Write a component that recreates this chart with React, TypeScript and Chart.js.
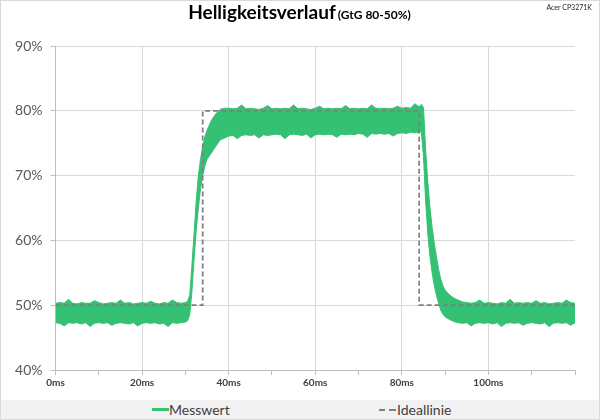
import React, { useEffect, useRef } from "react";
import { Chart, registerables } from "chart.js";

Chart.register(...registerables);

// time axis (ms) for the measured band
const timeMs = [
  0, 1, 2, 3, 4, 5, 6, 7, 8, 9, 10, 11, 12, 13, 14, 15, 16, 17, 18, 19, 20, 21, 22, 23, 24, 25, 26, 27, 28, 29, 30,
  30.5, 31, 31.5, 32, 32.5, 33, 33.5, 34, 34.5, 35, 36, 37, 38, 39,
  40, 41, 42, 43, 44, 45, 46, 47, 48, 49, 50, 51, 52, 53, 54, 55, 56, 57, 58, 59, 60, 61, 62, 63, 64,
  65, 66, 67, 68, 69, 70, 71, 72, 73, 74, 75, 76, 77, 78, 79, 80, 81, 82, 83, 84,
  84.5, 85, 85.5, 86, 86.5, 87, 87.5, 88, 88.5, 89, 89.5, 90,
  91, 92, 93, 94, 95, 96, 97, 98, 99, 100, 101, 102, 103, 104, 105, 106, 107, 108, 109, 110,
  111, 112, 113, 114, 115, 116, 117, 118, 119, 120,
];

// upper edge of the measured (noisy) signal, %
const messwertUpper = [
  50.3, 50.4, 50.3, 50.9, 50.3, 50.2, 50.4, 50.3, 50.3, 50.7, 50.4, 50.2, 50.3, 50.4, 50.3,
  50.8, 50.3, 50.4, 50.2, 50.3, 50.4, 50.3, 50.6, 50.3, 50.2, 50.4, 50.3, 50.8, 50.4, 50.3, 50.4,
  50.6, 51.5, 56, 61, 66, 70, 72.5, 74.5, 76, 77, 78.5, 79.5, 80.2, 80.4,
  80.4, 80.3, 80.4, 80.9, 80.3, 80.4, 80.3, 80.2, 80.4, 80.8, 80.3, 80.4, 80.3, 80.4, 80.3,
  80.9, 80.3, 80.4, 80.3, 80.2, 80.4, 80.7, 80.3, 80.4, 80.3, 80.4, 80.3, 80.8, 80.3, 80.4,
  80.3, 80.4, 80.3, 80.9, 80.4, 80.3, 80.4, 80.3, 80.4, 80.7, 80.4, 80.5, 80.4, 81.1, 80.6,
  81.0, 80.5, 74, 69, 65, 62, 59.5, 57.5, 55.5, 54, 53, 52.3,
  51.6, 51.1, 50.8, 50.5, 50.4, 50.3, 50.4, 50.8, 50.3, 50.4, 50.3, 50.2, 50.4, 50.3, 50.9,
  50.3, 50.4, 50.3, 50.4, 50.3, 50.7, 50.3, 50.4, 50.2, 50.3, 50.4, 50.3, 50.8, 50.4, 50.3,
];

// lower edge of the measured (noisy) signal, %
const messwertLower = [
  47.3, 47.2, 46.8, 47.3, 47.2, 47.3, 47.1, 47.3, 46.7, 47.2, 47.3, 47.2, 47.3, 46.9, 47.2,
  47.3, 47.2, 47.1, 47.3, 46.8, 47.2, 47.3, 47.2, 47.3, 47.1, 47.2, 46.7, 47.3, 47.2, 47.3, 47.4,
  47.6, 48.5, 52, 57, 61.5, 65, 68, 70, 71.5, 72.5, 73.5, 74.5, 75.5, 75.8,
  76.1, 76.2, 75.7, 76.2, 76.3, 76.2, 76.3, 75.8, 76.3, 76.2, 76.3, 76.4, 76.3, 75.7, 76.3,
  76.4, 76.3, 76.2, 76.4, 75.8, 76.3, 76.4, 76.3, 76.4, 76.3, 75.9, 76.4, 76.3, 76.4, 76.3,
  76.5, 76.4, 75.9, 76.5, 76.4, 76.5, 76.4, 76.5, 76.1, 76.5, 76.6, 76.5, 76.7, 76.6, 76.7,
  76.8, 73, 66, 61, 57.5, 55, 53, 51.5, 50.3, 49.2, 48.6, 48.2,
  47.8, 47.5, 47.3, 47.2, 47.3, 46.8, 47.2, 47.3, 47.2, 47.3, 47.1, 47.3, 46.7, 47.2, 47.3,
  47.2, 47.3, 46.9, 47.2, 47.3, 47.2, 47.1, 47.3, 46.7, 47.2, 47.3, 47.2, 47.3, 46.9, 47.3,
];

// ideal step response
const idealTime = [0, 34, 34, 84, 84, 120];
const idealValue = [50, 50, 80, 80, 50, 50];

const yTicks = [40, 50, 60, 70, 80, 90];
const xLabelStep = 20;

const GREEN = "#35c173";
const FONT = "Lato, 'Open Sans', sans-serif";

export default function App() {
  const ref = useRef<HTMLCanvasElement | null>(null);

  useEffect(() => {
    if (!ref.current) return;
    const chart = new Chart(ref.current, {
      type: "line",
      data: {
        datasets: [
          {
            label: "Ideallinie",
            data: idealTime.map((t, i) => ({ x: t, y: idealValue[i] })),
            borderColor: "#808080",
            borderWidth: 1.75,
            borderDash: [5, 3],
            pointRadius: 0,
            fill: false,
            tension: 0,
          },
          {
            label: "Messwert",
            data: timeMs.map((t, i) => ({ x: t, y: messwertUpper[i] })),
            borderColor: GREEN,
            backgroundColor: GREEN,
            borderWidth: 1,
            pointRadius: 0,
            fill: "+1",
            tension: 0,
          },
          {
            label: "Messwert (unten)",
            data: timeMs.map((t, i) => ({ x: t, y: messwertLower[i] })),
            borderColor: GREEN,
            borderWidth: 1,
            pointRadius: 0,
            fill: false,
            tension: 0,
          },
        ],
      },
      options: {
        animation: false,
        responsive: false,
        maintainAspectRatio: false,
        layout: { padding: { left: 0, right: 25, top: 46, bottom: 0 } },
        plugins: {
          legend: { display: false },
          tooltip: { enabled: false },
          title: { display: false },
        },
        scales: {
          x: {
            type: "linear",
            min: 0,
            max: 120,
            afterFit: (s: any) => {
              s.height = 50;
            },
            ticks: {
              stepSize: 10,
              autoSkip: false,
              maxRotation: 0,
              padding: 2,
              color: "#404040",
              font: { family: FONT, size: 10, weight: "bold" },
              callback: (v: any) => {
                const n = Number(v);
                return n % xLabelStep === 0 && n < 120 ? `${n}ms` : "";
              },
            },
            grid: {
              color: (ctx: any) => {
                const n = ctx.tick ? ctx.tick.value : 0;
                return n % xLabelStep === 0 && n < 120 ? "#d9d9d9" : "rgba(0,0,0,0)";
              },
              tickColor: "#bfbfbf",
              tickLength: 5,
              lineWidth: 1,
            },
            border: { display: true, color: "#bfbfbf", width: 1 },
          },
          y: {
            min: yTicks[0],
            max: yTicks[yTicks.length - 1],
            afterFit: (s: any) => {
              s.width = 55.5;
            },
            afterBuildTicks: (s: any) => {
              s.ticks = yTicks.map((v) => ({ value: v }));
            },
            ticks: {
              padding: 8,
              color: "#595959",
              font: { family: FONT, size: 14 },
              callback: (v: any) => `${v}%`,
            },
            grid: {
              color: "#d9d9d9",
              tickColor: "#bfbfbf",
              tickLength: 5,
              lineWidth: 1,
            },
            border: { display: true, color: "#bfbfbf", width: 1 },
          },
        },
      },
    });
    return () => chart.destroy();
  }, []);

  return (
    <div
      style={{
        position: "fixed",
        left: 0,
        top: 0,
        width: 600,
        height: 420,
        background: "#ffffff",
        boxSizing: "border-box",
        border: "1px solid #d9d9d9",
        overflow: "hidden",
        fontFamily: FONT,
      }}
    >
      <canvas
        ref={ref}
        width={600}
        height={420}
        style={{ position: "absolute", left: -1, top: -1, width: 600, height: 420 }}
      />
      <div
        style={{
          position: "absolute",
          left: 0,
          top: -1,
          width: 597,
          textAlign: "center",
          whiteSpace: "nowrap",
          color: "#000000",
          lineHeight: "24px",
        }}
      >
        <span style={{ fontWeight: 700, fontSize: 19 }}>Helligkeitsverlauf</span>
        <span style={{ fontWeight: 700, fontSize: 12, marginLeft: 2 }}>(GtG 80-50%)</span>
      </div>
      <div
        style={{
          position: "absolute",
          right: 7,
          top: 2,
          fontSize: 7,
          color: "#262626",
          whiteSpace: "nowrap",
        }}
      >
        Acer CP3271K
      </div>
      <div
        style={{
          position: "absolute",
          left: 0,
          top: 399,
          width: 600,
          height: 20,
          background: "#f2f2f2",
        }}
      >
        <div style={{ position: "absolute", left: 151, top: 8, width: 17, height: 2.5, background: GREEN }} />
        <div
          style={{
            position: "absolute",
            left: 168,
            top: 0,
            lineHeight: "19px",
            fontSize: 14,
            color: "#404040",
          }}
        >
          Messwert
        </div>
        <div style={{ position: "absolute", left: 378, top: 9, width: 6, height: 1.5, background: "#808080" }} />
        <div style={{ position: "absolute", left: 388, top: 9, width: 7, height: 1.5, background: "#808080" }} />
        <div
          style={{
            position: "absolute",
            left: 396,
            top: 0,
            lineHeight: "19px",
            fontSize: 14,
            color: "#404040",
          }}
        >
          Ideallinie
        </div>
      </div>
    </div>
  );
}
